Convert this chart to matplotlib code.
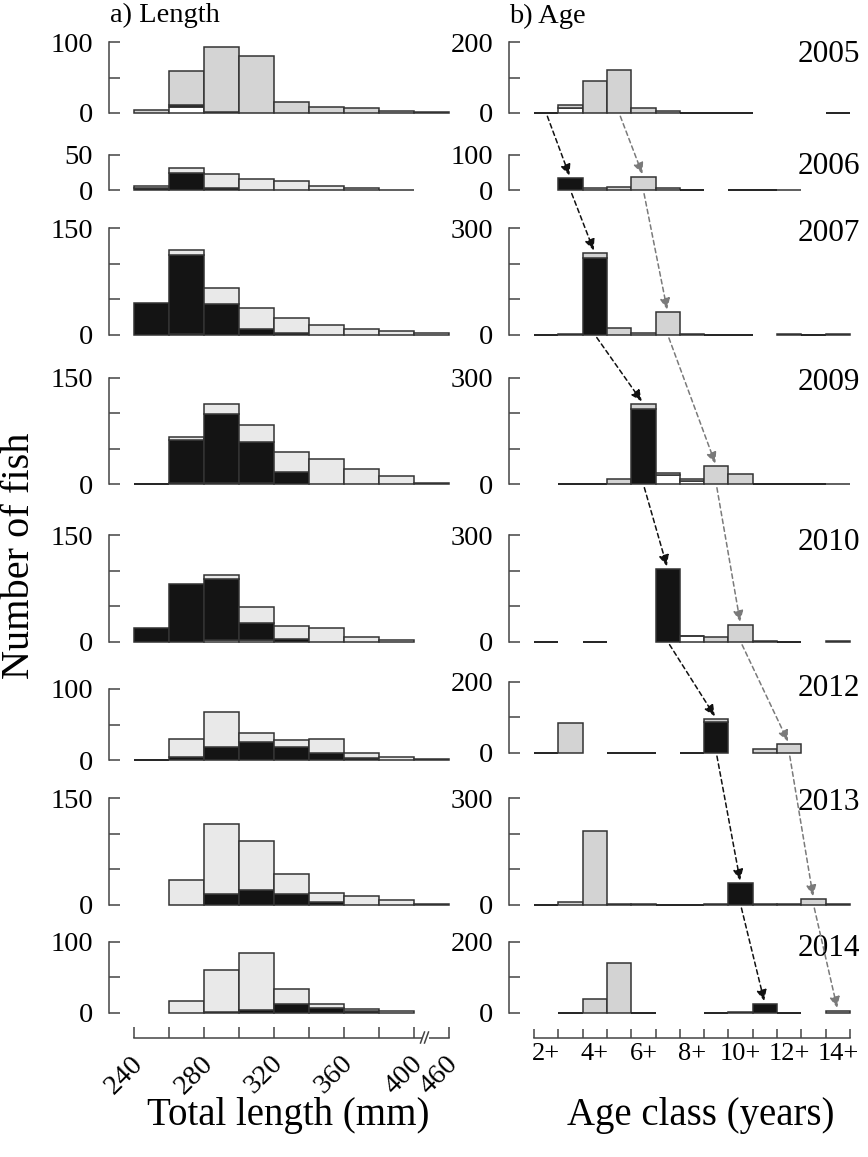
import matplotlib
matplotlib.use('Agg')
import matplotlib.pyplot as plt
import numpy as np
from matplotlib.patches import ConnectionPatch, Rectangle
from matplotlib.lines import Line2D
from matplotlib.transforms import ScaledTranslation

plt.rcParams['font.family'] = ['Liberation Serif', 'DejaVu Serif']

N = None
years = ['2005', '2006', '2007', '2009', '2010', '2012', '2013', '2014']

# ---- length classes (20 mm bins, last bin 400-460) ----
length_bins = ['240-260', '260-280', '280-300', '300-320', '320-340',
               '340-360', '360-380', '380-400', '400-460']
length_tick_labels = ['240', '', '280', '', '320', '', '360', '', '400', '460']
length_ymax = [100, 50, 150, 150, 150, 100, 150, 100]

# stacked layers per year: white (bottom), black, grey (top); None = no bar
len_white = {
    '2005': [0, 9, 0, 0, 0, 0, 0, 0, 0],
    '2006': [0, 0, 0, 0, 0, 0, 0, 0, N],
    '2007': [0, 1, 0, 0, 0, 0, 0, 0, 0],
    '2009': [0, 2, 2, 2, 0, 0, 0, 0, 0],
    '2010': [0, 0, 3, 3, 0, 0, 0, 0, N],
    '2012': [0, 0, 0, 0, 0, 0, 0, 0, 0],
    '2013': [N, 0, 0, 0, 0, 0, 0, 0, 0],
    '2014': [N, 0, 0, 0, 0, 0, 0, 0, N],
}
len_black = {
    '2005': [0, 2, 2, 0, 0, 0, 0, 0, 0],
    '2006': [3, 24, 3, 0, 0, 0, 0, 0, N],
    '2007': [45, 111, 43, 8, 3, 0, 0, 0, 0],
    '2009': [0, 60, 97, 57, 17, 0, 0, 0, 0],
    '2010': [19, 81, 86, 24, 4, 0, 0, 0, N],
    '2012': [0, 4, 19, 26, 18, 10, 3, 0, 0],
    '2013': [N, 0, 15, 21, 15, 4, 0, 0, 0],
    '2014': [N, 0, 1, 4, 12, 6, 2, 0, N],
}
len_grey = {
    '2005': [4, 48, 91, 80, 16, 8.5, 7.5, 3, 1],
    '2006': [3, 8, 20, 16, 12.7, 6, 3, 1, N],
    '2007': [0, 7, 23, 29, 21, 13, 7.5, 4.7, 3],
    '2009': [0, 5, 14, 24, 28, 35, 22, 11, 1.5],
    '2010': [0, 0, 5, 22, 18, 20, 6, 2, N],
    '2012': [0, 25, 49, 12.5, 10, 19, 7, 3.8, 1.5],
    '2013': [N, 35, 99, 69, 28, 12, 12.7, 6, 1.5],
    '2014': [N, 17, 59, 80, 22, 6, 2.7, 2.8, N],
}

# ---- age classes ----
age_bins = ['2+', '3+', '4+', '5+', '6+', '7+', '8+', '9+', '10+', '11+', '12+', '13+', '14+']
age_ymax = [200, 100, 300, 300, 300, 200, 300, 200]

age_white = {
    '2005': [0, 13, 0, 0, 0, 0, 0, 0, 0, N, N, N, 0],
    '2006': [N, 0, 0, 0, 0, 0, 0, N, 0, 0, 0, N, N],
    '2007': [0, 0, 0, 0, 0, 0, 0, 0, 0, N, 0, 0, 0],
    '2009': [N, 0, 0, 0, 0, 25, 9, 0, 0, 0, 0, 0, 0],
    '2010': [0, N, 0, N, N, 0, 16, 0, 0, 0, 0, N, 0],
    '2012': [0, 0, N, 0, 0, N, 0, 0, N, 0, 0, N, N],
    '2013': [0, 0, 0, 0, 0, 0, 0, 0, 0, 0, 0, 0, 0],
    '2014': [N, 0, 0, 0, 0, N, N, 0, 0, 0, 0, N, 0],
}
age_black = {
    '2005': [0, 0, 0, 0, 0, 0, 0, 0, 0, N, N, N, 0],
    '2006': [N, 34, 0, 0, 0, 0, 0, N, 0, 0, 0, N, N],
    '2007': [0, 0, 216, 0, 0, 0, 0, 0, 0, N, 0, 0, 0],
    '2009': [N, 0, 0, 0, 213, 0, 0, 0, 0, 0, 0, 0, 0],
    '2010': [0, N, 0, N, N, 205, 0, 0, 0, 0, 0, N, 0],
    '2012': [0, 0, N, 0, 0, N, 0, 86, N, 0, 0, N, N],
    '2013': [0, 0, 0, 0, 0, 0, 0, 0, 60, 3, 0, 0, 0],
    '2014': [N, 0, 0, 0, 0, N, N, 0, 0, 25, 0, N, 0],
}
age_grey = {
    '2005': [0, 9, 90, 120, 13, 4.7, 0, 0, 0, N, N, N, 0],
    '2006': [N, 0, 7, 8, 38.5, 5.6, 0, N, 0, 0, 1, N, N],
    '2007': [0, 1.5, 14, 18, 6, 63, 2.5, 0, 0, N, 1, 0, 1.5],
    '2009': [N, 0, 0, 14, 14, 7, 5, 51, 28, 0, 0, 0, 1],
    '2010': [0, N, 0, N, N, 0, 1, 14, 48, 3, 0, N, 1],
    '2012': [0, 84.5, N, 0, 0, N, 0, 10, N, 9.4, 24.4, N, N],
    '2013': [0, 6.5, 209, 3, 1, 0, 0, 1, 0, 0, 1, 16, 2],
    '2014': [N, 0, 38.5, 141, 0, N, N, 0, 1, 0, 0, N, 5.6],
}

# tracked cohorts (age class per sampled year)
cohort_black = ['2+', '3+', '4+', '6+', '7+', '9+', '10+', '11+']
cohort_grey = ['5+', '6+', '7+', '9+', '10+', '12+', '13+', '14+']

# ---------------- layout ----------------
W, H = 868, 1157
fig = plt.figure(figsize=(W / 100, H / 100), dpi=100)

def fx(x):
    return x / W

def fy(y):
    return 1 - y / H

left_zero = [113, 190.3, 334.7, 484.3, 641.7, 760, 904.7, 1012.7]
right_zero = [113, 190.3, 334.7, 484.3, 641.7, 752.7, 904.7, 1012.7]
year_label_y = [54, 166, 233.5, 383, 542, 688, 803, 949]
LPX, RPX = 0.71, 0.355  # pixels per fish

EC = '#333333'
SPC = '#444444'
BLACK = '#141414'
WHITE = '#ffffff'

def draw_stack(ax, layers, colors):
    n = len(layers[0])
    for i in range(n):
        if layers[-1][i] is None:
            continue
        vals = [l[i] for l in layers]
        if sum(vals) == 0:
            ax.bar(i + 0.5, 0, width=1, bottom=0, color='none', edgecolor='#222222',
                   linewidth=1.4, clip_on=False, zorder=3)
            continue
        bottom = 0
        for v, c in zip(vals, colors):
            if v > 0:
                ax.bar(i + 0.5, v, width=1, bottom=bottom, color=c, edgecolor=EC,
                       linewidth=1.1, clip_on=False, zorder=3)
                bottom += v

def style_axis(ax, ymax, step, nb, outward):
    ax.set_xlim(0, nb)
    ax.set_ylim(0, ymax)
    for s in ['top', 'right', 'bottom']:
        ax.spines[s].set_visible(False)
    ax.spines['left'].set_position(('outward', outward))
    ax.spines['left'].set_color(SPC)
    ax.spines['left'].set_linewidth(1.1)
    ticks = np.arange(0, ymax + 1, step)
    ax.set_yticks(ticks)
    ax.set_yticklabels([str(int(t)) if t in (0, ymax) else '' for t in ticks])
    ax.tick_params(axis='y', direction='in', length=8, width=1.1, color=SPC,
                   labelsize=20.5, pad=11.5)
    ax.set_xticks([])
    ax.patch.set_visible(False)

left_axes, right_axes = [], []
for k, yr in enumerate(years):
    ymL = length_ymax[k]
    axL = fig.add_axes([fx(134), fy(left_zero[k]), fx(315), ymL * LPX / H])
    grey_c = '#d4d4d4' if yr == '2005' else '#e9e9e9'
    draw_stack(axL, [len_white[yr], len_black[yr], len_grey[yr]], [WHITE, BLACK, grey_c])
    style_axis(axL, ymL, 50, len(length_bins), 18)
    left_axes.append(axL)

    ymR = age_ymax[k]
    axR = fig.add_axes([fx(534), fy(right_zero[k]), fx(316), ymR * RPX / H])
    draw_stack(axR, [age_white[yr], age_black[yr], age_grey[yr]], [WHITE, BLACK, '#d3d3d3'])
    style_axis(axR, ymR, 100, len(age_bins), 17.8)
    right_axes.append(axR)

    fig.text(fx(860), fy(year_label_y[k]), yr, ha='right', va='center', fontsize=22.5)

# ---- bottom x axes ----
axBL = fig.add_axes([fx(134), fy(1037.5), fx(315), 0.5 / H])
axBL.set_xlim(0, len(length_bins))
axBL.set_yticks([])
for s in ['top', 'right', 'left']:
    axBL.spines[s].set_visible(False)
axBL.spines['bottom'].set_color(SPC)
axBL.spines['bottom'].set_linewidth(1.1)
axBL.set_xticks(np.arange(len(length_tick_labels)))
axBL.set_xticklabels(length_tick_labels, rotation=45, ha='right', va='center',
                     rotation_mode='anchor')
axBL.tick_params(axis='x', direction='in', length=8, width=1.1, color=SPC,
                 labelsize=20.5, pad=16)
shift = ScaledTranslation(5 / 100, 0, fig.dpi_scale_trans)
for lab in axBL.get_xticklabels():
    lab.set_transform(lab.get_transform() + shift)
axBL.patch.set_visible(False)

axBR = fig.add_axes([fx(534), fy(1037.7), fx(316), 0.5 / H])
axBR.set_xlim(0, len(age_bins))
axBR.set_yticks([])
for s in ['top', 'right', 'left']:
    axBR.spines[s].set_visible(False)
axBR.spines['bottom'].set_color(SPC)
axBR.spines['bottom'].set_linewidth(1.1)
axBR.set_xticks(np.arange(len(age_bins) + 1))
axBR.set_xticklabels([])
centers = np.arange(0, len(age_bins), 2) + 0.5
axBR.set_xticks(centers, [age_bins[int(c)] for c in centers], minor=True)
axBR.tick_params(axis='x', which='major', direction='in', length=6.7, width=1.1, color=SPC)
axBR.tick_params(axis='x', which='minor', length=0, labelsize=19, pad=3.5)
axBR.patch.set_visible(False)

# axis break mark on length axis
fig.add_artist(Rectangle((fx(421.5), fy(1039.5)), fx(7), 4 / H, transform=fig.transFigure,
                         facecolor='white', edgecolor='none', zorder=5))
for x0 in (420.5, 424.5):
    fig.add_artist(Line2D([fx(x0), fx(x0 + 4)], [fy(1043), fy(1032)],
                          transform=fig.transFigure, color=SPC, lw=1.1, zorder=6))

# ---- cohort arrows ----
def add_arrow(k, cohort, color):
    axA, axB = right_axes[k], right_axes[k + 1]
    iA = age_bins.index(cohort[k])
    iB = age_bins.index(cohort[k + 1])
    yrB = years[k + 1]
    topB = (age_white[yrB][iB] or 0) + (age_black[yrB][iB] or 0) + (age_grey[yrB][iB] or 0)
    cp = ConnectionPatch(xyA=(iA + 0.5, 0), coordsA='data', axesA=axA,
                         xyB=(iB + 0.5, topB), coordsB='data', axesB=axB,
                         arrowstyle='-|>,head_length=0.55,head_width=0.25',
                         mutation_scale=12, linestyle=(0, (3, 2.2)),
                         color=color, lw=1.1, shrinkA=2.5, shrinkB=2, zorder=10)
    fig.add_artist(cp)

for k in range(len(years) - 1):
    add_arrow(k, cohort_black, '#111111')
    add_arrow(k, cohort_grey, '#7a7a7a')

# ---- texts ----
fig.text(fx(110), fy(22), 'a) Length', ha='left', va='baseline', fontsize=20.5)
fig.text(fx(509), fy(23), 'b) Age', ha='left', va='baseline', fontsize=20.5)
fig.text(fx(288), fy(1116), 'Total length (mm)', ha='center', va='center', fontsize=28)
fig.text(fx(701), fy(1116), 'Age class (years)', ha='center', va='center', fontsize=28)
fig.text(fx(29), fy(556), 'Number of fish', ha='center', va='baseline', rotation=90,
         rotation_mode='anchor', fontsize=29)

fig.savefig('out.png', dpi=100)
